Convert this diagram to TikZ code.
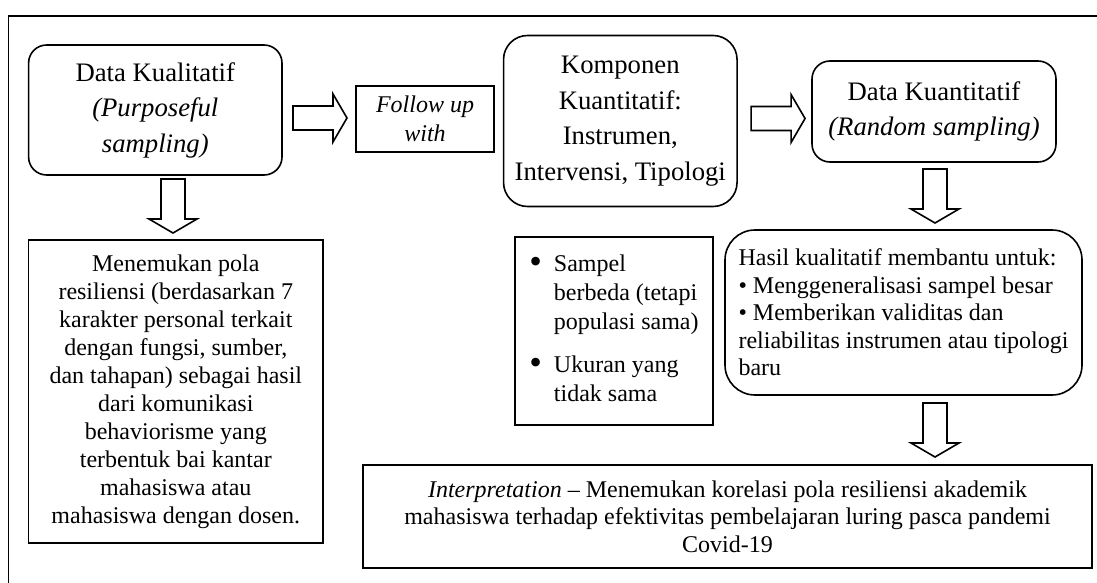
\documentclass[tikz,border=0pt]{standalone}
\usepackage{fontspec}
\setmainfont{Liberation Serif}
\usepackage{graphicx}
\usetikzlibrary{calc}

\newcommand{\bul}{\raisebox{-2pt}{\scalebox{1.5}{\textbullet}}}

\tikzset{
	fatarrow/.pic={\draw (0,-12) -- (40,-12) -- (40,-24) -- (54,0) -- (40,24) -- (40,12) -- (0,12) -- cycle;}
}

\begin{document}
\begin{tikzpicture}[x=1pt,y=-1pt,line width=1.6pt,line join=miter,
	box/.style={draw,inner sep=0pt,outer sep=0pt,align=center,font=\fontsize{24}{27.5}\selectfont},
	rbox/.style={box,rounded corners=#1},
	big/.style={font=\fontsize{26.7}{35.5}\selectfont}]
	\useasboundingbox (0,0) rectangle (1097,583);
	\draw (1097,16) -- (8.6,16) -- (8.6,583);
	% top row
	\node[rbox=18pt,big,minimum width=253.4,minimum height=130] (dkual) at (155.3,110) {Data Kualitatif\\\textit{(Purposeful}\\\textit{sampling)}};
	\node[box,font=\fontsize{24}{29}\selectfont,minimum width=138,minimum height=66] (follow) at (425,119) {\textit{Follow up}\\\textit{with}};
	\node[rbox=24pt,big,minimum width=233.5,minimum height=171] (komp) at (620.3,121) {Komponen\\Kuantitatif:\\Instrumen,\\Intervensi, Tipologi};
	\node[rbox=18pt,big,minimum width=244,minimum height=101] (dkuan) at (934,111.5) {Data Kuantitatif\\\textit{(Random sampling)}};
	% lower boxes
	\node[box,font=\fontsize{24}{28}\selectfont,minimum width=294.4,minimum height=303] (temu) at (175.8,391.5) {Menemukan pola\\resiliensi (berdasarkan 7\\karakter personal terkait\\dengan fungsi, sumber,\\dan tahapan) sebagai hasil\\dari komunikasi\\behaviorisme yang\\terbentuk bai kantar\\mahasiswa atau\\mahasiswa dengan dosen.};
	\node[box,font=\fontsize{24}{29}\selectfont,minimum width=198,minimum height=188] (sampel) at (614,331) {\begin{tabular}{@{}c@{\hspace{12pt}}l@{}}\bul & Sampel\\ & berbeda (tetapi\\ & populasi sama)\\[14pt]\bul & Ukuran yang\\ & tidak sama\end{tabular}};
	\node[rbox=30pt,align=left,minimum width=357,minimum height=165] (hasil) at (903.5,312.5) {Hasil kualitatif membantu untuk:\\• Menggeneralisasi sampel besar\\• Memberikan validitas dan\\reliabilitas instrumen atau tipologi\\baru};
	\node[box,minimum width=729,minimum height=103] (interp) at (727.5,516.5) {\textit{Interpretation} – Menemukan korelasi pola resiliensi akademik\\mahasiswa terhadap efektivitas pembelajaran luring pasca pandemi\\Covid-19};
	% block arrows
	\pic at ($(dkual.east)+(11,8)$) {fatarrow};
	\pic at ($(komp.east)+(14,-2.5)$) {fatarrow};
	\pic[rotate=-90] at ($(dkual.south)+(17.7,4)$) {fatarrow};
	\pic[rotate=-90] at ($(dkuan.south)+(1,7)$) {fatarrow};
	\pic[rotate=-90] at ($(hasil.south)+(31.5,8)$) {fatarrow};
\end{tikzpicture}
\end{document}
